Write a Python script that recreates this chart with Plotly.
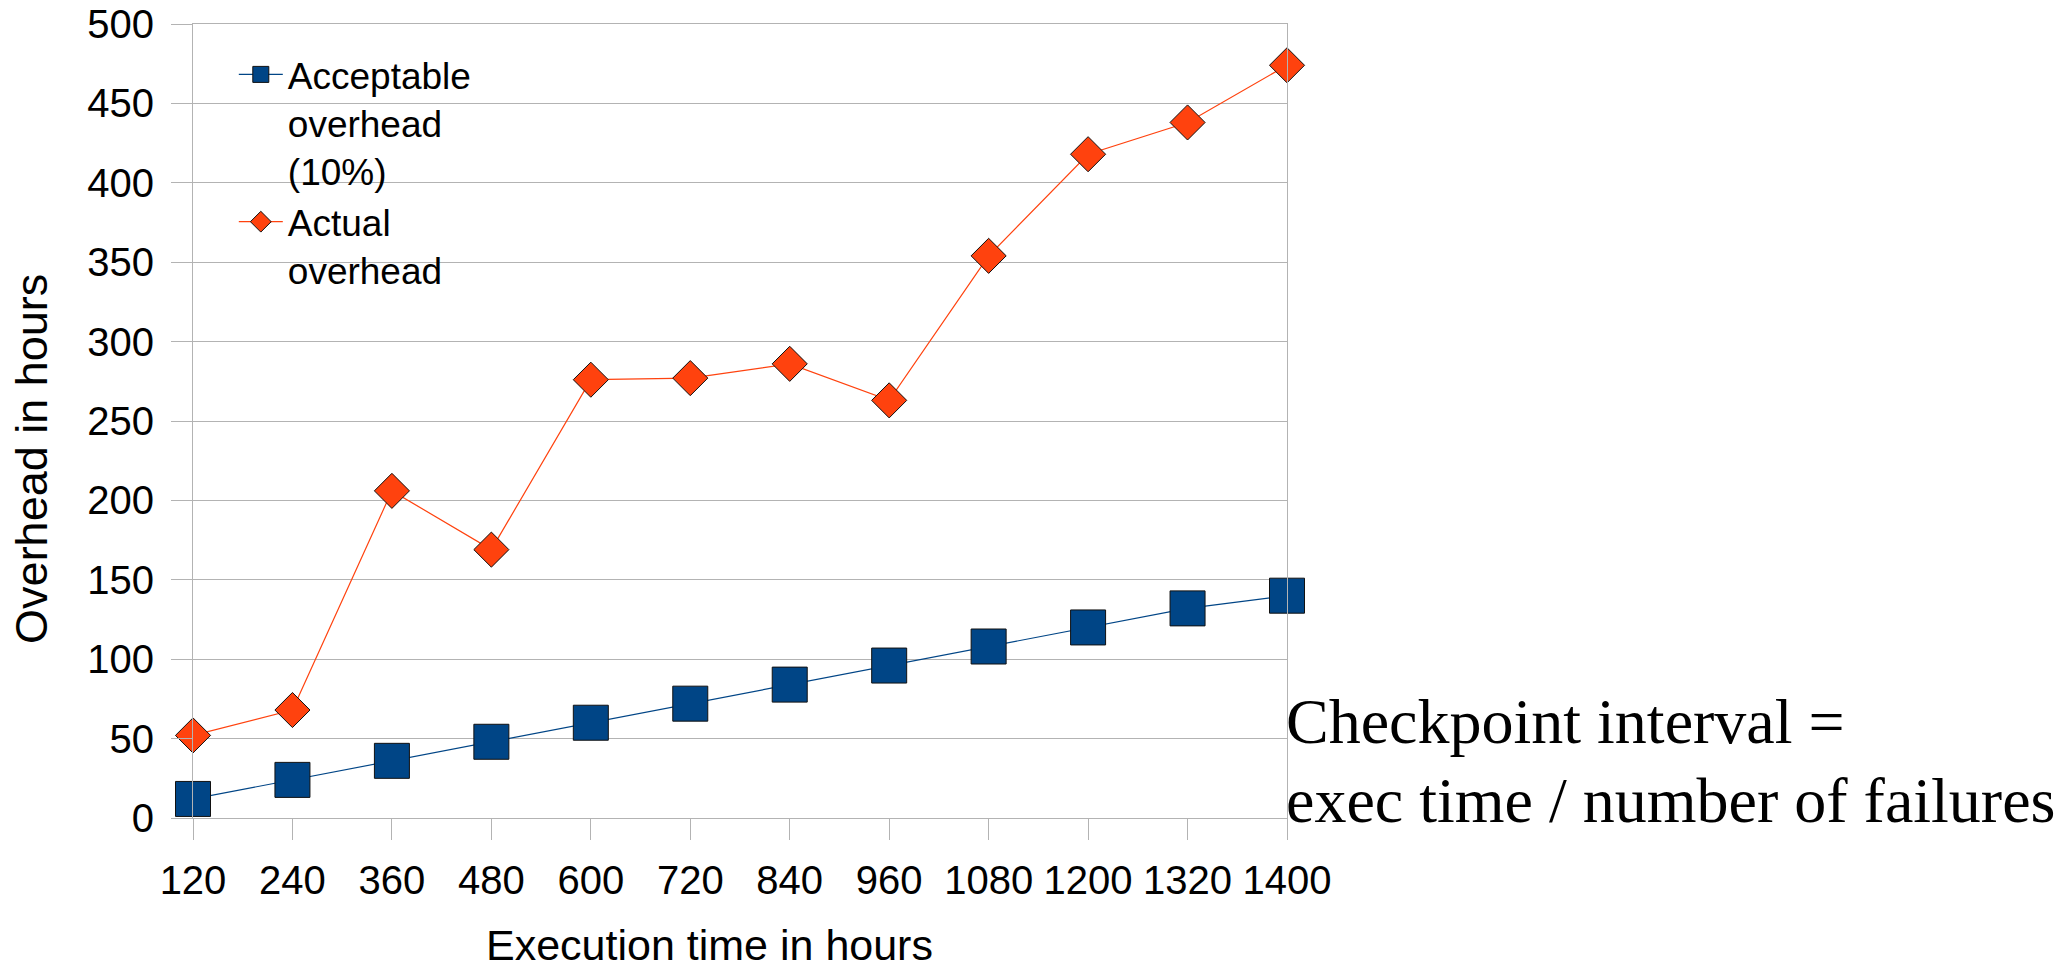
import plotly.graph_objects as go

exec_hours = ["120", "240", "360", "480", "600", "720", "840", "960", "1080", "1200", "1320", "1400"]
acceptable_overhead = [12, 24, 36, 48, 60, 72, 84, 96, 108, 120, 132, 140]
actual_overhead = [52, 68, 206, 169, 276, 277, 286, 263, 354, 418, 438, 474]
y_ticks = [0, 50, 100, 150, 200, 250, 300, 350, 400, 450, 500]

BLUE = "#004586"
ORANGE = "#ff420e"
GRID = "#b3b3b3"
SANS = "Liberation Sans, Arial, sans-serif"
SERIF = "Liberation Serif, Times New Roman, serif"

fig = go.Figure()
fig.add_trace(go.Scatter(
    x=exec_hours, y=acceptable_overhead, mode="lines+markers",
    name="Acceptable<br>overhead<br>(10%)",
    line=dict(color=BLUE, width=1.2),
    marker=dict(symbol="square", size=35, color=BLUE, line=dict(color="#111111", width=1)),
    cliponaxis=False,
))
fig.add_trace(go.Scatter(
    x=exec_hours, y=actual_overhead, mode="lines+markers",
    name="Actual<br>overhead",
    line=dict(color=ORANGE, width=1.2),
    marker=dict(symbol="diamond", size=27, color=ORANGE, line=dict(color="#111111", width=1)),
    cliponaxis=False,
))

fig.update_layout(
    width=2055, height=971,
    margin=dict(l=193, r=768, t=24, b=153),
    paper_bgcolor="white", plot_bgcolor="white",
    font=dict(family=SANS, size=40, color="black"),
    showlegend=True,
    legend=dict(
        x=0.0373, y=0.975, xanchor="left", yanchor="top",
        bgcolor="rgba(0,0,0,0)", font=dict(family=SANS, size=37, color="black"),
        valign="top", tracegroupgap=0, itemsizing="trace", itemwidth=44,
    ),
    xaxis=dict(
        type="category", range=[0, 11], automargin=False,
        showgrid=False, showline=True, linecolor=GRID, linewidth=1, mirror=True,
        ticks="outside", ticklen=21, tickcolor=GRID, tickwidth=1,
        tickfont=dict(family=SANS, size=40, color="black"),
        ticklabelstandoff=6, zeroline=False,
    ),
    yaxis=dict(
        range=[0, 500], tickvals=y_ticks, ticktext=[str(v) for v in y_ticks],
        automargin=False,
        showgrid=True, gridcolor=GRID, gridwidth=1,
        showline=True, linecolor=GRID, linewidth=1, mirror=True,
        ticks="outside", ticklen=21, tickcolor=GRID, tickwidth=1,
        tickfont=dict(family=SANS, size=40, color="black"),
        ticklabelstandoff=9, zeroline=False,
    ),
    annotations=[
        dict(text="Overhead in hours", xref="paper", yref="paper", x=-0.147, y=0.4525,
             textangle=-90, showarrow=False, xanchor="center", yanchor="middle",
             font=dict(family=SANS, size=45, color="black")),
        dict(text="Execution time in hours", xref="paper", yref="paper", x=0.4723, y=-0.1605,
             showarrow=False, xanchor="center", yanchor="middle",
             font=dict(family=SANS, size=43, color="black")),
        dict(text="Checkpoint interval =", xref="paper", yref="paper", x=0.997, y=0.122,
             showarrow=False, xanchor="left", yanchor="middle", align="left",
             font=dict(family=SERIF, size=64, color="black")),
        dict(text="exec time / number of failures", xref="paper", yref="paper", x=0.997, y=0.022,
             showarrow=False, xanchor="left", yanchor="middle", align="left",
             font=dict(family=SERIF, size=64, color="black")),
    ],
)

fig.write_html("out.html")
